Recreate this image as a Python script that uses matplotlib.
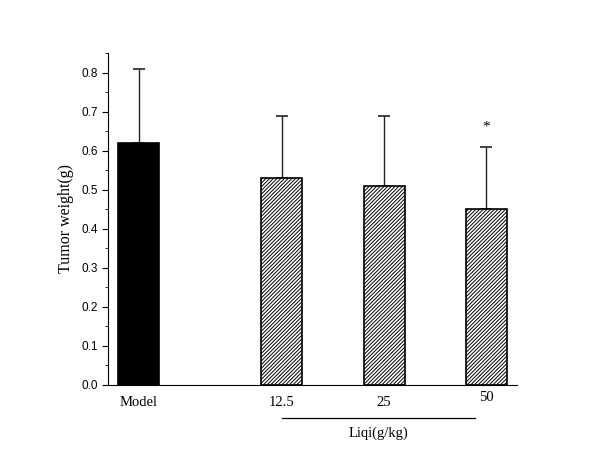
import matplotlib
matplotlib.use('Agg')
import matplotlib.pyplot as plt
import matplotlib.transforms as mtransforms
from matplotlib.ticker import MultipleLocator, FormatStrFormatter

rcParams = plt.rcParams
rcParams['hatch.linewidth'] = 0.7
rcParams['font.family'] = ['Liberation Sans', 'DejaVu Sans']
serif = ['Liberation Serif', 'DejaVu Serif']

# data
groups = ['Model', '12.5', '25', '50']
weight = [0.62, 0.53, 0.51, 0.45]
sd = [0.19, 0.16, 0.18, 0.16]
signif = ['', '', '', '*']
xpos = [0, 1.4, 2.4, 3.4]

fig = plt.figure(figsize=(6, 4.63), dpi=100)
ax = fig.add_axes([0.18, 0.1685, 0.6817, 0.717])

colors = ['black', 'white', 'white', 'white']
hatches = [None, '/////////', '/////////', '/////////']
for x, w, e, c, h in zip(xpos, weight, sd, colors, hatches):
    ax.bar(x, w, width=0.4, color=c, edgecolor='black', linewidth=1.2, hatch=h, zorder=2)
    ax.errorbar(x, w, yerr=[[0], [e]], fmt='none', ecolor='#222222', elinewidth=1,
                capsize=4, capthick=1.2, zorder=1)

for x, w, e, s in zip(xpos, weight, sd, signif):
    if s:
        ax.text(x, w + e + 0.05, s, ha='center', va='center', fontsize=11,
                family=serif)

ax.set_xlim(-0.3, 3.7)
ax.set_ylim(0, 0.85)
ax.spines['top'].set_visible(False)
ax.spines['right'].set_visible(False)
ax.yaxis.set_major_locator(MultipleLocator(0.1))
ax.yaxis.set_minor_locator(MultipleLocator(0.05))
ax.tick_params(axis='y', which='major', length=4, labelsize=8.5, direction='out')
ax.tick_params(axis='y', which='minor', length=2.5, direction='out')
ax.yaxis.set_major_formatter(FormatStrFormatter('%.1f'))

ax.set_xticks(xpos)
ax.set_xticklabels(groups, family=serif, fontsize=10.5)
ax.tick_params(axis='x', length=0, pad=8)
lbl = ax.get_xticklabels()[3]
lbl.set_transform(lbl.get_transform() + mtransforms.ScaledTranslation(0, 4 / 72, fig.dpi_scale_trans))

ax.set_ylabel('Tumor weight(g)', family=serif, fontsize=11.5, labelpad=5)

trans = mtransforms.blended_transform_factory(ax.transData, ax.transAxes)
ax.plot([1.4, 3.29], [-0.099, -0.099], color='black', lw=0.9, transform=trans, clip_on=False)
ax.text(2.35, -0.145, 'Liqi(g/kg)', transform=trans, ha='center', va='center',
        family=serif, fontsize=10.5)

fig.savefig('out.png', dpi=100)
